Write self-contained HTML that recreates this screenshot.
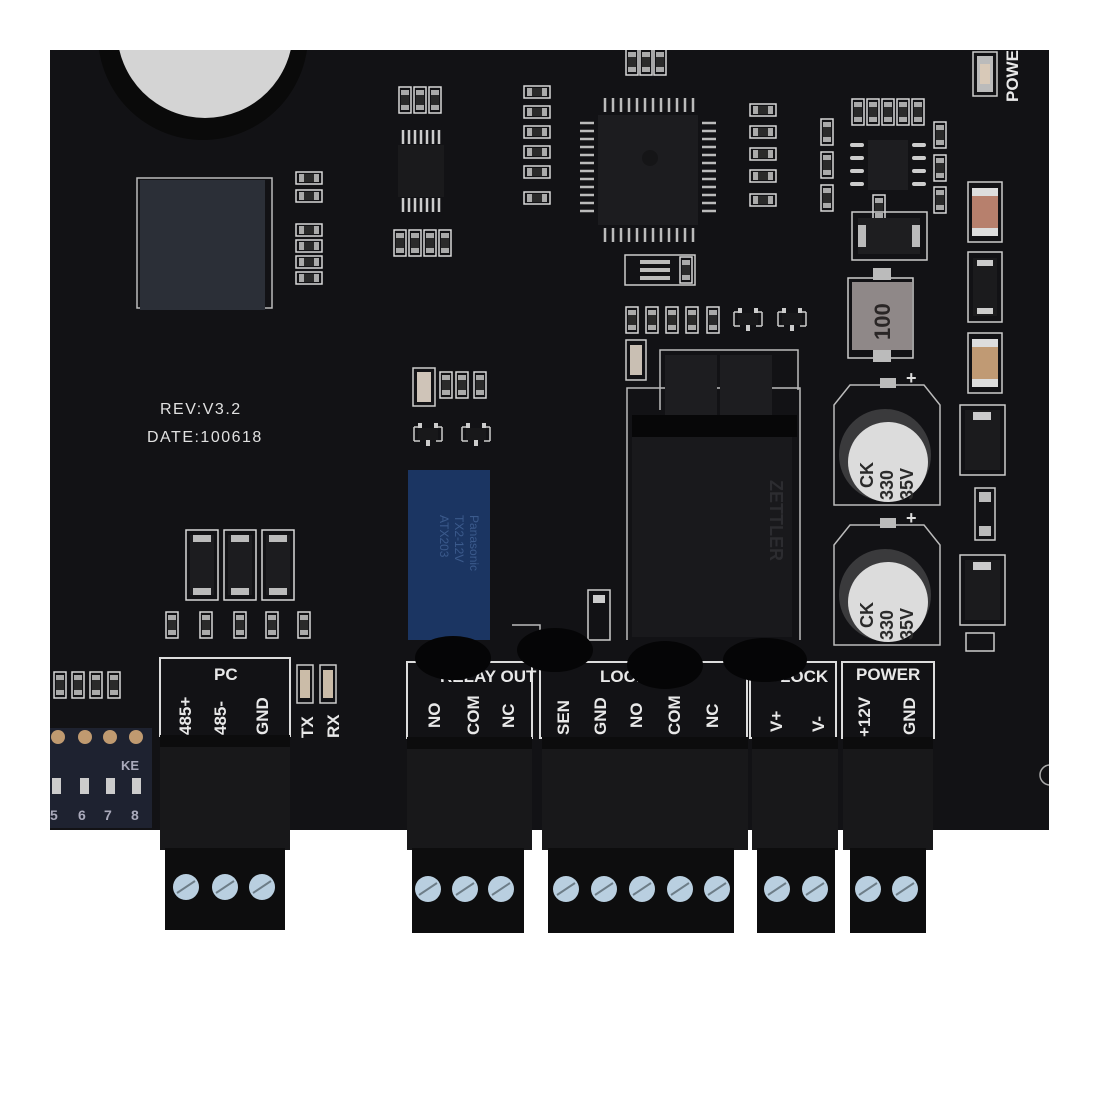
<!DOCTYPE html>
<html><head><meta charset="utf-8"><style>
html,body{margin:0;padding:0;background:#fff;width:1100px;height:1100px;overflow:hidden}
svg{display:block}
text{font-family:"Liberation Sans",sans-serif}
.lb{fill:#e8e8e8;font-weight:bold;font-size:17px}
</style></head><body>
<svg width="1100" height="1100" viewBox="0 0 1100 1100" xmlns="http://www.w3.org/2000/svg">
<defs>
<clipPath id="brd"><rect x="50" y="50" width="999" height="780"/></clipPath>
<g id="rv"><rect x="-6" y="-13" width="12" height="26" fill="none" stroke="#d8d8d8" stroke-width="1.5"/><rect x="-4" y="-10" width="8" height="20" fill="#2a2a2a"/><rect x="-4" y="-10" width="8" height="5" fill="#aaa"/><rect x="-4" y="5" width="8" height="5" fill="#aaa"/></g>
<g id="rh"><rect x="-13" y="-6" width="26" height="12" fill="none" stroke="#d8d8d8" stroke-width="1.5"/><rect x="-10" y="-4" width="20" height="8" fill="#2a2a2a"/><rect x="-10" y="-4" width="5" height="8" fill="#aaa"/><rect x="5" y="-4" width="5" height="8" fill="#aaa"/></g>
<g id="tall"><rect x="-16" y="-35" width="32" height="70" fill="none" stroke="#d8d8d8" stroke-width="1.5"/><rect x="-12" y="-30" width="24" height="60" fill="#1c1c1f"/><rect x="-9" y="-30" width="18" height="7" fill="#bbb"/><rect x="-9" y="23" width="18" height="7" fill="#bbb"/></g>
<g id="scr"><circle r="13" fill="#b9cfe0"/><line x1="-9" y1="6" x2="9" y2="-6" stroke="#6d7d88" stroke-width="2"/></g>
<g id="tr"><path d="M-14 -8 h6 M8 -8 h6 M-14 -8 v14 M14 -8 v14 M-14 6 h6 M8 6 h6" stroke="#ccc" stroke-width="1.5" fill="none"/><rect x="-10" y="-7" width="20" height="12" fill="#18181a"/><rect x="-2" y="5" width="4" height="6" fill="#ccc"/><rect x="-10" y="-12" width="4" height="5" fill="#ccc"/><rect x="6" y="-12" width="4" height="5" fill="#ccc"/></g>
</defs>

<rect x="50" y="50" width="999" height="780" fill="#121215"/>
<g clip-path="url(#brd)">
 <circle cx="203" cy="35" r="105" fill="#0a0a0a"/>
 <circle cx="205" cy="30" r="88" fill="#d4d4d4"/>
 <rect x="137" y="178" width="135" height="130" fill="none" stroke="#bbb" stroke-width="1.5"/>
 <rect x="140" y="180" width="125" height="130" fill="#2b2f37"/>
 <use href="#rh" x="309" y="178"/><use href="#rh" x="309" y="196"/>
 <use href="#rh" x="309" y="230"/><use href="#rh" x="309" y="246"/><use href="#rh" x="309" y="262"/><use href="#rh" x="309" y="278"/>
 <use href="#rv" x="405" y="100"/><use href="#rv" x="420" y="100"/><use href="#rv" x="435" y="100"/>
 <use href="#rv" x="400" y="243"/><use href="#rv" x="415" y="243"/><use href="#rv" x="430" y="243"/><use href="#rv" x="445" y="243"/>
 <rect x="398" y="145" width="46" height="52" fill="#1a1a1c"/>
 <g stroke="#ccc" stroke-width="2.5">
  <path d="M403 130v14 M409 130v14 M415 130v14 M421 130v14 M427 130v14 M433 130v14 M439 130v14"/>
  <path d="M403 198v14 M409 198v14 M415 198v14 M421 198v14 M427 198v14 M433 198v14 M439 198v14"/>
 </g>
 <g><use href="#rh" x="537" y="92"/><use href="#rh" x="537" y="112"/><use href="#rh" x="537" y="132"/><use href="#rh" x="537" y="152"/><use href="#rh" x="537" y="172"/><use href="#rh" x="537" y="198"/></g>
 <use href="#rv" x="632" y="62"/><use href="#rv" x="646" y="62"/><use href="#rv" x="660" y="62"/>
 <rect x="598" y="115" width="100" height="110" fill="#1c1c1f"/>
 <circle cx="650" cy="158" r="8" fill="#151517"/>
 <g stroke="#bbb" stroke-width="2.5">
  <path d="M605 98v14 M613 98v14 M621 98v14 M629 98v14 M637 98v14 M645 98v14 M653 98v14 M661 98v14 M669 98v14 M677 98v14 M685 98v14 M693 98v14"/>
  <path d="M605 228v14 M613 228v14 M621 228v14 M629 228v14 M637 228v14 M645 228v14 M653 228v14 M661 228v14 M669 228v14 M677 228v14 M685 228v14 M693 228v14"/>
  <path d="M580 123h14 M580 131h14 M580 139h14 M580 147h14 M580 155h14 M580 163h14 M580 171h14 M580 179h14 M580 187h14 M580 195h14 M580 203h14 M580 211h14"/>
  <path d="M702 123h14 M702 131h14 M702 139h14 M702 147h14 M702 155h14 M702 163h14 M702 171h14 M702 179h14 M702 187h14 M702 195h14 M702 203h14 M702 211h14"/>
 </g>
 <g><use href="#rh" x="763" y="110"/><use href="#rh" x="763" y="132"/><use href="#rh" x="763" y="154"/><use href="#rh" x="763" y="176"/><use href="#rh" x="763" y="200"/></g>
 <rect x="625" y="255" width="70" height="30" fill="none" stroke="#ccc" stroke-width="1.5"/>
 <g fill="#bbb"><rect x="640" y="260" width="30" height="4"/><rect x="640" y="268" width="30" height="4"/><rect x="640" y="276" width="30" height="4"/></g>
 <use href="#rv" x="686" y="270"/>
 <g><use href="#rv" x="827" y="132"/><use href="#rv" x="827" y="165"/><use href="#rv" x="827" y="198"/></g>
 <g><use href="#rv" x="858" y="112"/><use href="#rv" x="873" y="112"/><use href="#rv" x="888" y="112"/><use href="#rv" x="903" y="112"/><use href="#rv" x="918" y="112"/></g>
 <rect x="868" y="140" width="40" height="50" fill="#1d1d20"/>
 <g stroke="#ccc" stroke-width="4" stroke-linecap="round"><path d="M852 145h10 M852 158h10 M852 171h10 M852 184h10 M914 145h10 M914 158h10 M914 171h10 M914 184h10"/></g>
 <g><use href="#rv" x="940" y="135"/><use href="#rv" x="940" y="168"/><use href="#rv" x="940" y="200"/></g>
 <use href="#rv" x="879" y="208"/>
 <rect x="973" y="52" width="24" height="44" fill="none" stroke="#ccc" stroke-width="1.5"/><rect x="977" y="56" width="16" height="36" fill="#bbb"/><rect x="980" y="64" width="10" height="20" fill="#d8c9b8"/>
 <text x="0" y="0" transform="translate(1018,102) rotate(-90)" class="lb" font-size="15">POWER</text>
 <rect x="852" y="212" width="75" height="48" fill="none" stroke="#ccc" stroke-width="1.5"/>
 <rect x="858" y="218" width="62" height="36" fill="#1e1e20"/>
 <rect x="858" y="225" width="8" height="22" fill="#bbb"/><rect x="912" y="225" width="8" height="22" fill="#bbb"/>
 <rect x="968" y="182" width="34" height="60" fill="none" stroke="#ccc" stroke-width="1.5"/><rect x="972" y="188" width="26" height="48" fill="#b7806d"/><rect x="972" y="188" width="26" height="8" fill="#ddd"/><rect x="972" y="228" width="26" height="8" fill="#ddd"/>
 <rect x="968" y="252" width="34" height="70" fill="none" stroke="#ccc" stroke-width="1.5"/><rect x="973" y="258" width="24" height="58" fill="#1b1b1d"/><rect x="977" y="260" width="16" height="6" fill="#ccc"/><rect x="977" y="308" width="16" height="6" fill="#ccc"/>
 <rect x="968" y="333" width="34" height="60" fill="none" stroke="#ccc" stroke-width="1.5"/><rect x="972" y="339" width="26" height="48" fill="#c09a74"/><rect x="972" y="339" width="26" height="8" fill="#ddd"/><rect x="972" y="379" width="26" height="8" fill="#ddd"/>
 <rect x="960" y="405" width="45" height="70" fill="none" stroke="#ccc" stroke-width="1.5"/><rect x="965" y="410" width="35" height="60" fill="#1b1b1d"/><rect x="973" y="412" width="18" height="8" fill="#ccc"/>
 <rect x="975" y="488" width="20" height="52" fill="none" stroke="#ccc" stroke-width="1.5"/><rect x="979" y="492" width="12" height="10" fill="#bbb"/><rect x="979" y="526" width="12" height="10" fill="#bbb"/>
 <rect x="960" y="555" width="45" height="70" fill="none" stroke="#ccc" stroke-width="1.5"/><rect x="965" y="560" width="35" height="60" fill="#1b1b1d"/><rect x="973" y="562" width="18" height="8" fill="#ccc"/>
 <rect x="966" y="633" width="28" height="18" fill="none" stroke="#ccc" stroke-width="1.5"/>
 <rect x="848" y="278" width="65" height="80" fill="none" stroke="#ccc" stroke-width="1.5"/>
 <rect x="873" y="268" width="18" height="12" fill="#bbb"/><rect x="873" y="350" width="18" height="12" fill="#bbb"/>
 <rect x="852" y="282" width="60" height="68" fill="#8f8888"/>
 <text transform="translate(890,340) rotate(-90)" font-size="22" font-weight="bold" fill="#2a2626">100</text>
 <g>
  <path d="M834 405 L850 385 L924 385 L940 405 L940 505 L834 505 Z" fill="none" stroke="#bbb" stroke-width="1.5"/>
  <rect x="880" y="378" width="16" height="10" fill="#bbb"/>
  <text x="906" y="384" font-size="18" fill="#ddd" font-weight="bold">+</text>
  <circle cx="885" cy="455" r="46" fill="#3a3a3c"/>
  <circle cx="888" cy="462" r="40" fill="#dcdcdc"/>
  <text transform="translate(873,488) rotate(-90)" font-size="18" font-weight="bold" fill="#2a2a2a">CK</text>
  <text transform="translate(893,500) rotate(-90)" font-size="18" font-weight="bold" fill="#2a2a2a">330</text>
  <text transform="translate(913,500) rotate(-90)" font-size="18" font-weight="bold" fill="#2a2a2a">35V</text>
 </g>
 <g>
  <path d="M834 545 L850 525 L924 525 L940 545 L940 645 L834 645 Z" fill="none" stroke="#bbb" stroke-width="1.5"/>
  <rect x="880" y="518" width="16" height="10" fill="#bbb"/>
  <text x="906" y="524" font-size="18" fill="#ddd" font-weight="bold">+</text>
  <circle cx="885" cy="595" r="46" fill="#3a3a3c"/>
  <circle cx="888" cy="602" r="40" fill="#dcdcdc"/>
  <text transform="translate(873,628) rotate(-90)" font-size="18" font-weight="bold" fill="#2a2a2a">CK</text>
  <text transform="translate(893,640) rotate(-90)" font-size="18" font-weight="bold" fill="#2a2a2a">330</text>
  <text transform="translate(913,640) rotate(-90)" font-size="18" font-weight="bold" fill="#2a2a2a">35V</text>
 </g>
 <g><use href="#rv" x="632" y="320"/><use href="#rv" x="652" y="320"/><use href="#rv" x="672" y="320"/><use href="#rv" x="692" y="320"/><use href="#rv" x="713" y="320"/></g>
 <use href="#tr" x="748" y="320"/><use href="#tr" x="792" y="320"/>
 <rect x="626" y="340" width="20" height="40" fill="none" stroke="#ccc" stroke-width="1.5"/><rect x="630" y="345" width="12" height="30" fill="#c9bfb3"/>
 <path d="M660 410 V350 H798 V390" fill="none" stroke="#bbb" stroke-width="1.5"/>
 <path d="M627 640 V388 H800 V640" fill="none" stroke="#bbb" stroke-width="1.5"/>
 <rect x="665" y="355" width="52" height="60" fill="#1d1d20"/><rect x="720" y="355" width="52" height="60" fill="#1d1d20"/>
 <rect x="632" y="415" width="165" height="22" fill="#070708"/>
 <rect x="632" y="437" width="160" height="200" fill="#19191c"/>
 <text transform="translate(770,480) rotate(90)" font-size="18" fill="#2c2c30" font-weight="bold">ZETTLER</text>
 <rect x="413" y="368" width="22" height="38" fill="none" stroke="#ccc" stroke-width="1.5"/><rect x="417" y="372" width="14" height="30" fill="#cfc4b8"/>
 <use href="#rv" x="446" y="385"/><use href="#rv" x="462" y="385"/><use href="#rv" x="480" y="385"/>
 <use href="#tr" x="428" y="435"/><use href="#tr" x="476" y="435"/>
 <rect x="408" y="470" width="82" height="170" fill="#1b3562"/>
 <g fill="#3b5a8c" font-size="12">
  <text transform="translate(470,515) rotate(90)">Panasonic</text>
  <text transform="translate(455,515) rotate(90)">TX2-12V</text>
  <text transform="translate(440,515) rotate(90)">ATX203</text>
 </g>
 <text x="160" y="414" fill="#e0e0e0" font-size="16" letter-spacing="1.5">REV:V3.2</text>
 <text x="147" y="442" fill="#e0e0e0" font-size="16" letter-spacing="1.5">DATE:100618</text>
 <use href="#tall" x="202" y="565"/><use href="#tall" x="240" y="565"/><use href="#tall" x="278" y="565"/>
 <g><use href="#rv" x="172" y="625"/><use href="#rv" x="206" y="625"/><use href="#rv" x="240" y="625"/><use href="#rv" x="272" y="625"/><use href="#rv" x="304" y="625"/></g>
 <g><use href="#rv" x="60" y="685"/><use href="#rv" x="78" y="685"/><use href="#rv" x="96" y="685"/><use href="#rv" x="114" y="685"/></g>
 <rect x="50" y="728" width="102" height="100" fill="#1e2230"/>
 <g fill="#c09a70"><circle cx="58" cy="737" r="7"/><circle cx="85" cy="737" r="7"/><circle cx="110" cy="737" r="7"/><circle cx="136" cy="737" r="7"/></g>
 <text x="121" y="770" fill="#aab" font-size="13" font-weight="bold">KE</text>
 <g fill="#ccc"><rect x="52" y="778" width="9" height="16"/><rect x="80" y="778" width="9" height="16"/><rect x="106" y="778" width="9" height="16"/><rect x="132" y="778" width="9" height="16"/></g>
 <g fill="#aab" font-size="14" font-weight="bold"><text x="50" y="820">5</text><text x="78" y="820">6</text><text x="104" y="820">7</text><text x="131" y="820">8</text></g>
 <rect x="297" y="665" width="16" height="38" fill="none" stroke="#ccc" stroke-width="1.5"/><rect x="300" y="670" width="10" height="28" fill="#cbbca8"/>
 <rect x="320" y="665" width="16" height="38" fill="none" stroke="#ccc" stroke-width="1.5"/><rect x="323" y="670" width="10" height="28" fill="#cbbca8"/>
 <text class="lb" font-size="15" transform="translate(313,738) rotate(-90)">TX</text>
 <text class="lb" font-size="15" transform="translate(339,738) rotate(-90)">RX</text>
 <rect x="588" y="590" width="22" height="50" fill="none" stroke="#ccc" stroke-width="1.5"/><rect x="593" y="595" width="12" height="8" fill="#ccc"/>
 <path d="M512 625 H540 V660" fill="none" stroke="#bbb" stroke-width="1.5"/>
 <circle cx="1050" cy="775" r="10" fill="none" stroke="#aaa" stroke-width="1.5"/>
 <g fill="none" stroke="#ddd" stroke-width="2">
  <rect x="160" y="658" width="130" height="78"/>
  <rect x="407" y="662" width="125" height="76"/>
  <rect x="540" y="662" width="207" height="76"/>
  <rect x="750" y="662" width="86" height="76"/>
  <rect x="842" y="662" width="92" height="76"/>
 </g>
 <text x="214" y="680" class="lb">PC</text>
 <text x="440" y="682" class="lb">RELAY OUT</text>
 <text x="600" y="682" class="lb">LOCK</text>
 <text x="780" y="682" class="lb">LOCK</text>
 <text x="856" y="680" class="lb">POWER</text>
 <!-- domes over labels -->
 <ellipse cx="453" cy="658" rx="38" ry="22" fill="#050506"/>
 <ellipse cx="555" cy="650" rx="38" ry="22" fill="#050506"/>
 <ellipse cx="665" cy="665" rx="38" ry="24" fill="#050506"/>
 <ellipse cx="765" cy="660" rx="42" ry="22" fill="#050506"/>
 <g class="lb">
  <text transform="translate(191,735) rotate(-90)">485+</text>
  <text transform="translate(226,735) rotate(-90)">485-</text>
  <text transform="translate(268,735) rotate(-90)">GND</text>
  <text transform="translate(440,728) rotate(-90)">NO</text>
  <text transform="translate(479,735) rotate(-90)">COM</text>
  <text transform="translate(514,728) rotate(-90)">NC</text>
  <text transform="translate(569,735) rotate(-90)">SEN</text>
  <text transform="translate(606,735) rotate(-90)">GND</text>
  <text transform="translate(642,728) rotate(-90)">NO</text>
  <text transform="translate(680,735) rotate(-90)">COM</text>
  <text transform="translate(718,728) rotate(-90)">NC</text>
  <text transform="translate(782,732) rotate(-90)">V+</text>
  <text transform="translate(824,732) rotate(-90)">V-</text>
  <text transform="translate(870,737) rotate(-90)">+12V</text>
  <text transform="translate(915,735) rotate(-90)">GND</text>
 </g>
</g>
<g>
 <rect x="160" y="735" width="130" height="115" fill="#18181a"/>
 <rect x="160" y="735" width="130" height="12" fill="#0c0c0d"/>
 <rect x="165" y="848" width="120" height="82" fill="#0d0d0e"/>
 <use href="#scr" x="186" y="887"/><use href="#scr" x="225" y="887"/><use href="#scr" x="262" y="887"/>

 <rect x="407" y="737" width="125" height="113" fill="#18181a"/>
 <rect x="407" y="737" width="125" height="12" fill="#0c0c0d"/>
 <rect x="412" y="848" width="112" height="85" fill="#0d0d0e"/>
 <use href="#scr" x="428" y="889"/><use href="#scr" x="465" y="889"/><use href="#scr" x="501" y="889"/>

 <rect x="542" y="737" width="206" height="113" fill="#18181a"/>
 <rect x="542" y="737" width="206" height="12" fill="#0c0c0d"/>
 <rect x="548" y="848" width="186" height="85" fill="#0d0d0e"/>
 <use href="#scr" x="566" y="889"/><use href="#scr" x="604" y="889"/><use href="#scr" x="642" y="889"/><use href="#scr" x="680" y="889"/><use href="#scr" x="717" y="889"/>

 <rect x="752" y="737" width="86" height="113" fill="#18181a"/>
 <rect x="752" y="737" width="86" height="12" fill="#0c0c0d"/>
 <rect x="757" y="848" width="78" height="85" fill="#0d0d0e"/>
 <use href="#scr" x="777" y="889"/><use href="#scr" x="815" y="889"/>

 <rect x="843" y="737" width="90" height="113" fill="#18181a"/>
 <rect x="843" y="737" width="90" height="12" fill="#0c0c0d"/>
 <rect x="850" y="848" width="76" height="85" fill="#0d0d0e"/>
 <use href="#scr" x="868" y="889"/><use href="#scr" x="905" y="889"/>
</g>
</svg>
</body></html>
